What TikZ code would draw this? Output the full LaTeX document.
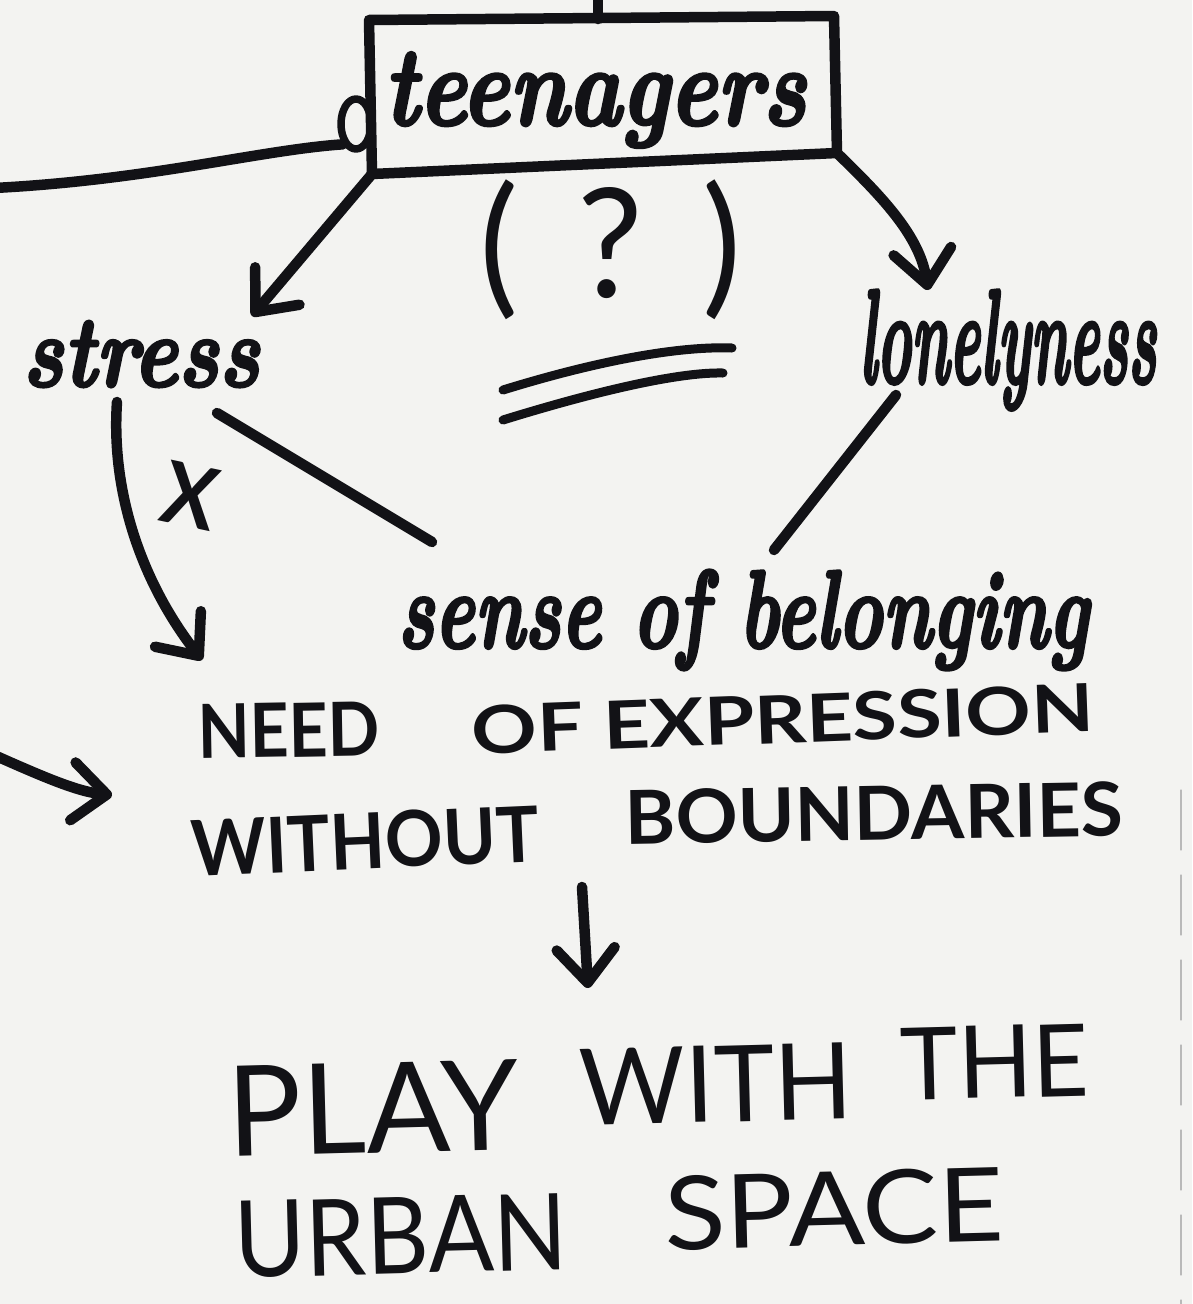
\documentclass[tikz,border=0pt]{standalone}
\usepackage{fontspec}
\usepackage{graphicx}
\newfontfamily\capsfont{Lato}
\newfontface\handface{lmroman10-bolditalic.otf}[FakeBold=3]
\newcommand{\handfont}{\handface}
\newcommand{\fitbox}[3]{\resizebox*{#1}{#2}{#3}}
\usetikzlibrary{arrows.meta,shapes.geometric}
\definecolor{paper}{RGB}{243,243,241}
\definecolor{ink}{RGB}{18,18,22}
\begin{document}
\begin{tikzpicture}[x=1pt,y=-1pt, line cap=round, line join=round,
  pen/.style={draw=ink, line width=10.5pt},
  arr/.style={pen, -{Straight Barb[length=34pt,width=58pt,round]}},
  txt/.style={inner sep=0pt, outer sep=0pt, text=ink}]
\fill[paper] (0,0) rectangle (1192,1304);
\useasboundingbox (0,0) rectangle (1192,1304);

% text nodes
\node[txt] (teen) at (595,100) {\fitbox{422pt}{95pt}{\handfont teenagers}};
\node[txt] (stress) at (141,354) {\fitbox{237pt}{66pt}{\handfont stress}};
\node[txt] (lonely) at (1008,350) {\fitbox{297pt}{120pt}{\handfont lonelyness}};
\node[txt] (belong) at (743,620) {\fitbox{691pt}{100pt}{\handfont sense of belonging}};
\node[txt] (quest) at (611,250) {\fitbox{262pt}{140pt}{\capsfont (\hspace{0.4em}?\hspace{0.4em})}};
\node[txt, rotate=1] (need) at (289,730) {\fitbox{182pt}{54pt}{\capsfont\bfseries NEED}};
\node[txt, rotate=2.1] (expr) at (783,719) {\fitbox{622pt}{49pt}{\capsfont\bfseries OF EXPRESSION}};
\node[txt, rotate=2.5] (without) at (365,841) {\fitbox{348pt}{57pt}{\capsfont\bfseries WITHOUT}};
\node[txt, rotate=1] (bound) at (874,813) {\fitbox{498pt}{55pt}{\capsfont\bfseries BOUNDARIES}};
\node[txt, rotate=1.5] (play) at (373,1108) {\fitbox{291pt}{90pt}{\capsfont PLAY}};
\node[txt, rotate=1.5] (with) at (716,1084) {\fitbox{273pt}{76pt}{\capsfont WITH}};
\node[txt, rotate=1.5] (the) at (995,1062) {\fitbox{188pt}{72pt}{\capsfont THE}};
\node[txt, rotate=1.5] (urbanw) at (401,1236) {\fitbox{333pt}{77pt}{\capsfont URBAN}};
\node[txt, rotate=1.5] (space) at (834,1209) {\fitbox{339pt}{75pt}{\capsfont SPACE}};
\node[txt, rotate=-12] (cross) at (190,496) {\fitbox{54pt}{62pt}{\capsfont\bfseries X}};

% teenagers box
\coordinate (bTL) at (369,20);
\coordinate (bTR) at (834,16);
\coordinate (bBR) at (837,153);
\coordinate (bBL) at (372,174);
\draw[pen] (bTL) -- (bTR) -- (bBR) -- (bBL) -- cycle;
\coordinate (topin) at (598,-10);
\coordinate (bTop) at (598,19);
\draw[pen] (topin) -- (bTop);

% incoming line with open port
\node[draw=ink, line width=7.5pt, ellipse, minimum width=30pt, minimum height=50pt, inner sep=0pt] (port) at (356,124) {};
\coordinate (leftin) at (-6,188);
\draw[pen] (leftin) .. controls (150,180) and (260,150) .. (port.south west);

% arrows from teenagers
\coordinate (stressTip) at (252,316);
\draw[arr] (bBL) -- (stressTip);
\coordinate (lonelyTip) at (928,290);
\draw[arr] (bBR) .. controls (880,195) and (920,235) .. (lonelyTip);

% equals sign
\draw[pen, line width=9pt] (503,390) .. controls (600,360) and (680,346) .. (732,348);
\draw[pen, line width=9pt] (503,420) .. controls (600,390) and (680,372) .. (723,373);

% links to sense of belonging
\coordinate (sA) at (217,413);
\coordinate (sB) at (432,542);
\draw[pen] (sA) -- (sB);
\coordinate (lA) at (896,395);
\coordinate (lB) at (774,550);
\draw[pen] (lA) -- (lB);

% stress to need (crossed)
\coordinate (cA) at (117,402);
\coordinate (cB) at (202,660);
\draw[arr] (cA) .. controls (111,490) and (140,580) .. (cB);

% incoming arrow from left
\coordinate (leftA) at (-6,755);
\coordinate (leftB) at (112,795);
\draw[arr] (leftA) .. controls (50,780) and (80,792) .. (leftB);

% down arrow
\coordinate (dA) at (582,887);
\coordinate (dB) at (588,988);
\draw[arr] (dA) -- (dB);

% paper edge
\draw[gray!55, line width=1.2pt, dash pattern=on 60pt off 25pt] (1181,790) -- (1181,1304);
\end{tikzpicture}
\end{document}
